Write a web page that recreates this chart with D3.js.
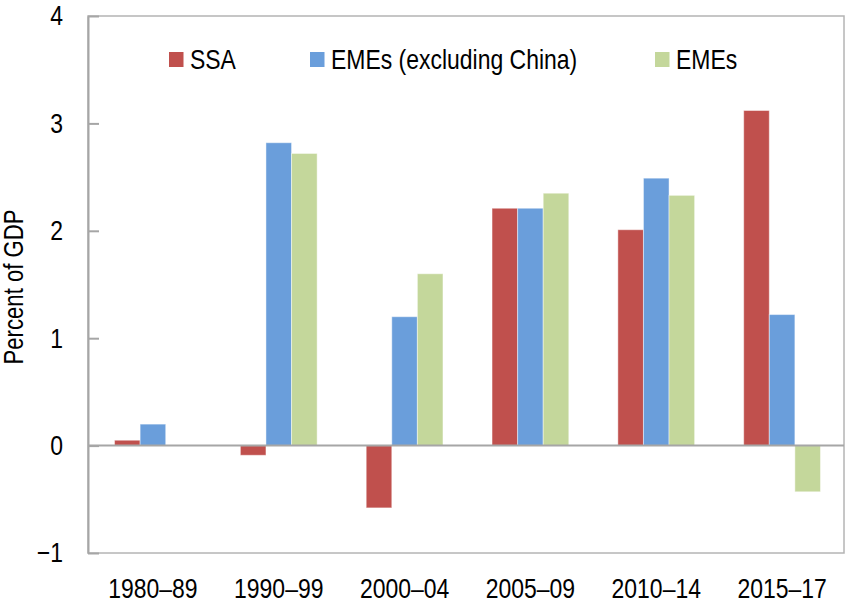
<!DOCTYPE html>
<html>
<head>
<meta charset="utf-8">
<script src="https://cdn.jsdelivr.net/npm/d3@7"></script>
<style>
  body { margin: 0; background: #fff; }
  text { font-family: "Liberation Sans", Arial, sans-serif; fill: #000; }
</style>
</head>
<body>
<svg id="chart" width="845" height="606"></svg>
<script>
var categories = ["1980–89", "1990–99", "2000–04", "2005–09", "2010–14", "2015–17"];
var seriesNames = ["SSA", "EMEs (excluding China)", "EMEs"];
var ssa = [0.05, -0.09, -0.58, 2.21, 2.01, 3.12];
var emesExChina = [0.2, 2.82, 1.2, 2.21, 2.49, 1.22];
var emes = [null, 2.72, 1.6, 2.35, 2.33, -0.43];
var yTicks = [-1, 0, 1, 2, 3, 4];
var colors = ["#C0504D", "#6A9EDB", "#C4D79B"];

var allSeries = [ssa, emesExChina, emes];
var narrow = 0.82; // fake Arial Narrow by squeezing Liberation Sans

var svg = d3.select("#chart");
var plotL = 88, plotR = 844, plotT = 16, plotB = 553;

var y = d3.scaleLinear().domain([-1, 4]).range([plotB, plotT]);
var x0 = d3.scaleBand().domain(categories).range([90, 845]).paddingInner(0.39).paddingOuter(0.195);
var x1 = d3.scaleBand().domain(seriesNames).range([0, x0.bandwidth()]);

// frame
svg.append("rect")
  .attr("x", plotL).attr("y", plotT)
  .attr("width", plotR - plotL).attr("height", plotB - plotT)
  .attr("fill", "none").attr("stroke", "#B4B4B4").attr("stroke-width", 1.5);

// bars
var rows = [];
categories.forEach(function(c, i) {
  seriesNames.forEach(function(s, j) {
    if (allSeries[j][i] != null) rows.push({cat: c, series: s, idx: j, value: allSeries[j][i]});
  });
});

svg.append("g").selectAll("rect")
  .data(rows)
  .enter().append("rect")
  .attr("x", function(d) { return x0(d.cat) + x1(d.series); })
  .attr("y", function(d) { return y(Math.max(0, d.value)); })
  .attr("width", x1.bandwidth())
  .attr("height", function(d) { return Math.abs(y(d.value) - y(0)); })
  .attr("fill", function(d) { return colors[d.idx]; })
  .attr("stroke", "rgba(255,255,255,0.45)")
  .attr("stroke-width", 1);

// zero line
svg.append("line")
  .attr("x1", plotL).attr("x2", plotR)
  .attr("y1", y(0)).attr("y2", y(0))
  .attr("stroke", "#A6A6A6").attr("stroke-width", 2);

// y axis
var yAxis = d3.axisLeft(y).tickValues(yTicks).tickSizeInner(-11).tickSizeOuter(0).tickPadding(25)
  .tickFormat(function(d) { return d < 0 ? "\u2212" + Math.abs(d) : d; });
var gy = svg.append("g").attr("transform", "translate(" + plotL + ",0)").call(yAxis);
gy.select(".domain").attr("stroke", "#A6A6A6").attr("stroke-width", 2);
gy.selectAll(".tick line").attr("stroke", "#A6A6A6").attr("stroke-width", 2);
gy.selectAll(".tick text")
  .attr("font-size", 28).style("font-family", null)
  .attr("x", -25 / narrow)
  .attr("transform", "scale(" + narrow + ",1)");

// x axis labels
var xAxis = d3.axisBottom(x0).tickSize(0).tickPadding(0);
var gx = svg.append("g").attr("transform", "translate(0," + plotB + ")").call(xAxis);
gx.select(".domain").remove();
gx.selectAll(".tick text")
  .attr("font-size", 28).attr("dy", null).attr("y", 45).style("font-family", null)
  .attr("transform", "scale(" + narrow + ",1)");

// y title
svg.append("text")
  .attr("transform", "translate(23,287) rotate(-90) scale(" + narrow + ",1)")
  .attr("text-anchor", "middle")
  .attr("font-size", 27)
  .text("Percent of GDP");

// legend
var legendX = [169, 310, 655];
var lg = svg.append("g").selectAll("g")
  .data(seriesNames)
  .enter().append("g")
  .attr("transform", function(d, i) { return "translate(" + legendX[i] + ",52)"; });
lg.append("rect").attr("width", 14.5).attr("height", 15)
  .attr("fill", function(d, i) { return colors[i]; });
lg.append("text")
  .attr("transform", "translate(21,17) scale(" + narrow + ",1)")
  .attr("font-size", 28)
  .text(function(d) { return d; });
</script>
</body>
</html>
